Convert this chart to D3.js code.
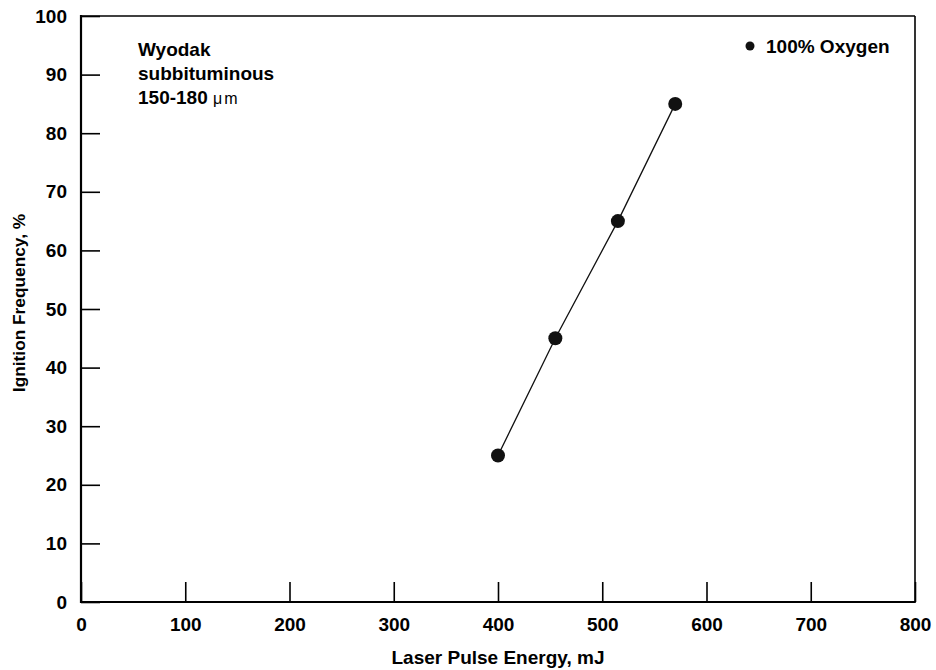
<!DOCTYPE html>
<html>
<head>
<meta charset="utf-8">
<script src="https://cdn.jsdelivr.net/npm/d3@7"></script>
<style>
  html, body { margin: 0; padding: 0; background: #fff; }
  svg { display: block; font-family: "Liberation Sans", Arial, Helvetica, sans-serif; }
</style>
</head>
<body>
<svg id="chart" width="936" height="670"></svg>
<script>
// Ignition frequency vs. laser pulse energy, 100% oxygen
const energy = [400, 455, 515, 570];          // mJ
const frequency = [25, 45, 65, 85];           // %
const xTickValues = [0, 100, 200, 300, 400, 500, 600, 700, 800];
const yTickValues = [0, 10, 20, 30, 40, 50, 60, 70, 80, 90, 100];
const noteLines = ["Wyodak", "subbituminous", "150-180 "];
const legendLabel = "100% Oxygen";

const svg = d3.select("#chart");
const margin = { left: 81, top: 16, right: 21, bottom: 68 };
const W = 936, H = 670;
const plotW = W - margin.left - margin.right;
const plotH = H - margin.top - margin.bottom;

const x = d3.scaleLinear().domain([0, 800]).range([margin.left, margin.left + plotW]);
const y = d3.scaleLinear().domain([0, 100]).range([margin.top + plotH, margin.top]);

const fontSize = 19;
const fontFamily = "Liberation Sans, Arial, sans-serif";

// Y axis: ticks point inward
const yAxis = svg.append("g")
  .attr("transform", `translate(${margin.left},0)`)
  .call(d3.axisLeft(y).tickValues(yTickValues).tickSizeInner(-19).tickSizeOuter(0).tickPadding(14));
yAxis.select(".domain").remove();
yAxis.selectAll(".tick line").attr("stroke", "#000").attr("stroke-width", 1.6);
yAxis.selectAll(".tick text")
  .attr("font-size", fontSize).attr("font-weight", "bold").attr("fill", "#000")
  .attr("font-family", fontFamily);

// X axis: ticks point inward
const xAxis = svg.append("g")
  .attr("transform", `translate(0,${margin.top + plotH})`)
  .call(d3.axisBottom(x).tickValues(xTickValues).tickSizeInner(-20).tickSizeOuter(0).tickPadding(16));
xAxis.select(".domain").remove();
xAxis.selectAll(".tick line").attr("stroke", "#000").attr("stroke-width", 1.6);
xAxis.selectAll(".tick text")
  .attr("font-size", fontSize).attr("font-weight", "bold").attr("fill", "#000")
  .attr("font-family", fontFamily);

// Plot frame
const x0 = x(0), x1 = x(800), y0 = y(0), y1 = y(100);
svg.append("line").attr("x1", x0).attr("x2", x1).attr("y1", y1).attr("y2", y1)
  .attr("stroke", "#000").attr("stroke-width", 1.6);
svg.append("line").attr("x1", x1).attr("x2", x1).attr("y1", y1).attr("y2", y0)
  .attr("stroke", "#000").attr("stroke-width", 1.6);
svg.append("line").attr("x1", x0).attr("x2", x0).attr("y1", y1 - 1).attr("y2", y0 + 1)
  .attr("stroke", "#000").attr("stroke-width", 2.2);
svg.append("line").attr("x1", x0 - 1).attr("x2", x1 + 0.8).attr("y1", y0).attr("y2", y0)
  .attr("stroke", "#000").attr("stroke-width", 2.2);

// Data line and markers
const pts = energy.map((e, i) => [e, frequency[i]]);
svg.append("path")
  .datum(pts)
  .attr("fill", "none").attr("stroke", "#111").attr("stroke-width", 1.3)
  .attr("d", d3.line().x(d => x(d[0])).y(d => y(d[1])));
svg.append("g").selectAll("circle").data(pts).join("circle")
  .attr("cx", d => x(d[0])).attr("cy", d => y(d[1])).attr("r", 7)
  .attr("fill", "#111");

// Axis titles
svg.append("text")
  .attr("x", (x0 + x1) / 2).attr("y", 664)
  .attr("text-anchor", "middle").attr("font-size", fontSize).attr("font-weight", "bold")
  .text("Laser Pulse Energy, mJ");
svg.append("text")
  .attr("transform", `translate(25,303) rotate(-90)`)
  .attr("text-anchor", "middle").attr("font-size", 17.3).attr("font-weight", "bold")
  .text("Ignition Frequency, %");

// Sample annotation
const note = svg.append("text").attr("font-size", fontSize).attr("font-weight", "bold");
noteLines.forEach((t, i) => {
  note.append("tspan").attr("x", 138).attr("y", 56 + i * 24).text(t);
});
note.append("tspan").attr("font-size", 16).attr("font-weight", "normal").text("μ");
note.append("tspan").attr("dx", 2).attr("font-size", 16).attr("font-weight", "normal").text("m");

// Legend
svg.append("circle").attr("cx", 750).attr("cy", 46).attr("r", 4.5).attr("fill", "#111");
svg.append("text").attr("x", 766).attr("y", 53).attr("font-size", fontSize).attr("font-weight", "bold")
  .text(legendLabel);
</script>
</body>
</html>
